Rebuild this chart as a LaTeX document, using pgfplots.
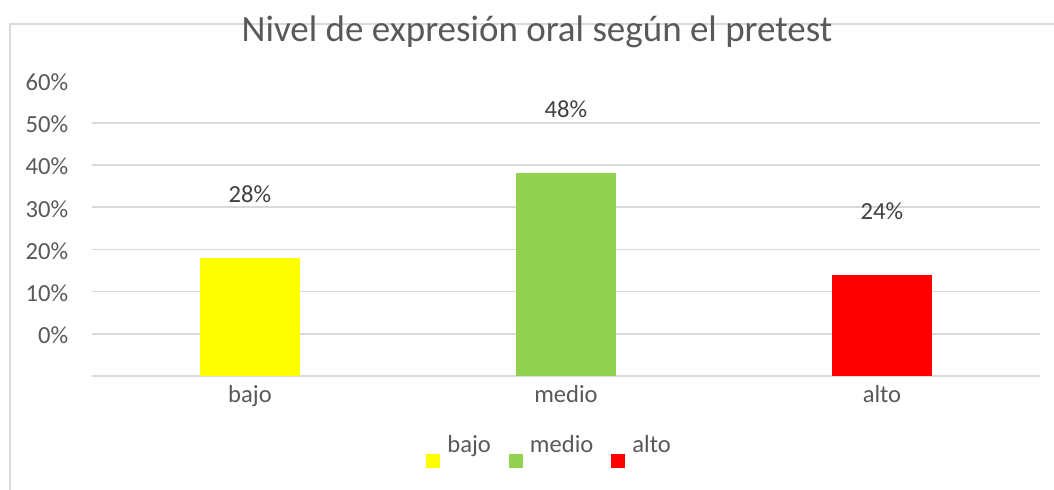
\documentclass[border=0pt]{standalone}
\usepackage{pgfplots}
\pgfplotsset{compat=1.18}
\usepackage{fontspec}
\setmainfont{Carlito}
\definecolor{gridc}{HTML}{D9D9D9}
\definecolor{txt}{HTML}{595959}
\definecolor{lbl}{HTML}{404040}
\definecolor{cyel}{HTML}{FFFF00}
\definecolor{cgrn}{HTML}{92D050}
\definecolor{cred}{HTML}{FF0000}
\begin{document}
\begin{tikzpicture}
\path[use as bounding box] (0,0) rectangle (527bp,-245bp);
\draw[gridc, line width=0.9bp] (5bp,-250bp) -- (5bp,-12bp) -- (535bp,-12bp);
\node[anchor=base, text=txt, font=\fontsize{18.5bp}{22bp}\selectfont, inner sep=0pt] at (268.5bp,-20.9bp) {Nivel de expresión oral según el pretest};
\begin{axis}[
  at={(46bp,-188bp)}, anchor=south west,
  scale only axis, width=474bp, height=147.7bp,
  xmin=-0.5, xmax=2.5, ymin=0, ymax=70,
  axis line style={draw=none},
  major tick length=0pt,
  xtick={0,1,2}, xticklabels={bajo,medio,alto},
  ytick={0,10,20,30,40,50,60},
  yticklabels={,0\%,10\%,20\%,30\%,40\%,50\%},
  extra y ticks={70}, extra y tick labels={60\%},
  extra y tick style={grid=none},
  ymajorgrids, grid style={gridc, line width=0.8bp},
  tick label style={text=txt, font=\fontsize{12.3bp}{14bp}\selectfont, inner sep=0pt},
  yticklabel style={anchor=east, xshift=-11.7bp, yshift=-0.8bp},
  xticklabel style={anchor=north, yshift=-4.5bp},
  /pgf/number format/assume math mode=true,
  ybar, bar width=50bp, bar shift=0pt,
  nodes near coords={\pgfmathprintnumber{\pgfplotspointmeta}\%},
  every node near coord/.append style={anchor=center, yshift=32bp, text=lbl, font=\fontsize{12.3bp}{14bp}\selectfont},
  legend columns=3,
  legend image code/.code={\fill[#1] (0bp,-7.5bp) rectangle (7bp,-0.5bp);},
  legend style={draw=none, fill=none, inner sep=0pt, at={(0.3523,-0.2)}, anchor=north west,
    font=\fontsize{12.3bp}{14bp}\selectfont, text=txt,
    nodes={inner sep=0pt, anchor=base west},
    /tikz/every odd column/.append style={column sep=3.5bp},
    /tikz/every even column/.append style={column sep=9bp}},
]
\addplot[fill=cyel, draw=none] coordinates {(0,28)};
\addplot[fill=cgrn, draw=none] coordinates {(1,48)};
\addplot[fill=cred, draw=none] coordinates {(2,24)};
\legend{bajo,medio,alto}
\end{axis}
\end{tikzpicture}
\end{document}
